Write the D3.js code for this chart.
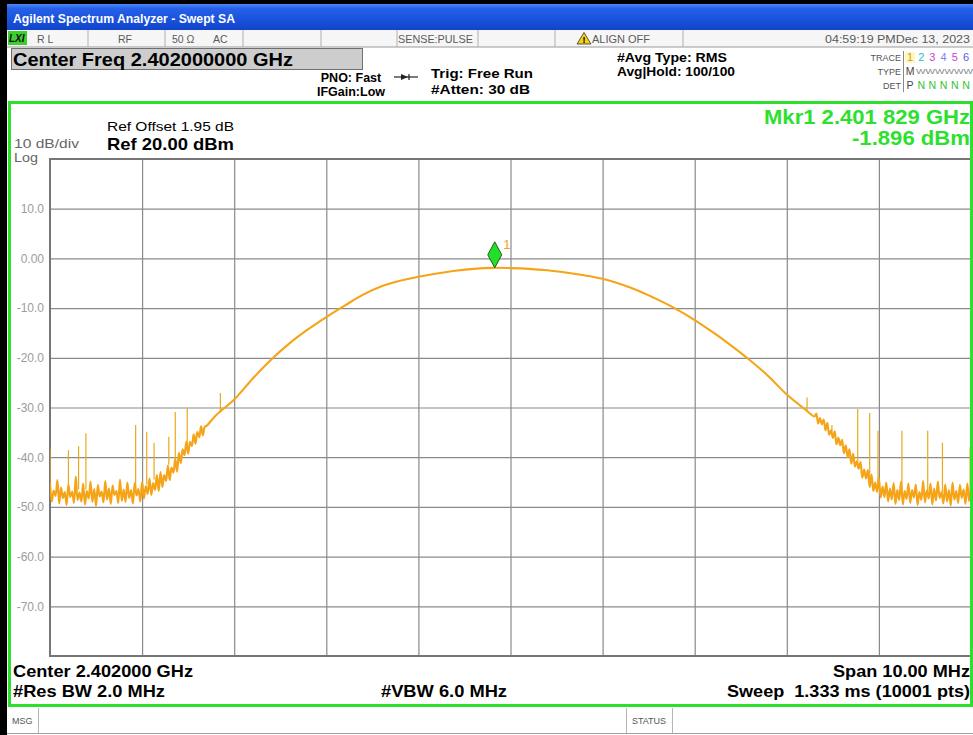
<!DOCTYPE html>
<html>
<head>
<meta charset="utf-8">
<script src="https://cdn.jsdelivr.net/npm/d3@7"></script>
<style>
  body { margin: 0; background: #fff; }
  svg { display: block; font-family: "Liberation Sans", Arial, sans-serif; }
</style>
</head>
<body>
<svg id="screen" width="973" height="735"></svg>
<script>
// ---- Swept SA trace data (frequency offsets in MHz from 2.402 GHz centre, levels in dBm) ----
const centerFreqGHz = 2.402;
const spanMHz = 10;
const refLevel = 20;
const dbPerDiv = 10;

const yTicks = [10, 0, -10, -20, -30, -40, -50, -60, -70];
const yTickLabels = ["10.0", "0.00", "-10.0", "-20.0", "-30.0", "-40.0", "-50.0", "-60.0", "-70.0"];
const freqDivisions = [-4, -3, -2, -1, 0, 1, 2, 3, 4];

// lower skirt / noise floor, sampled every 0.02 MHz starting at -5.00 MHz
const noiseStep = 0.02;
const leftNoiseStart = -5.0;
const leftNoise = [
  -45.2, -48.9, -46.7, -47.8, -44.6, -49.3, -46.1, -48.2, -47.0, -49.6,
  -45.5, -48.0, -46.9, -49.2, -43.9, -48.6, -47.1, -48.9, -45.3, -49.5,
  -46.8, -48.3, -44.9, -49.0, -46.4, -49.8, -45.6, -47.9, -46.9, -49.1,
  -44.8, -48.5, -46.3, -49.4, -45.7, -47.6, -46.8, -49.2, -44.5, -48.8,
  -46.5, -49.0, -45.1, -48.2, -46.6, -49.3, -45.2, -47.7, -46.4, -48.9,
  -45.0, -48.3, -45.8, -47.4, -44.3, -47.6, -45.2, -46.6, -43.6, -46.8,
  -43.0, -46.0, -43.6, -44.8, -41.7, -44.6, -42.1, -43.1, -40.3, -42.9,
  -39.1, -41.2, -38.4, -39.6, -36.9, -39.3, -36.9, -37.8, -35.4, -37.3,
  -34.9, -36.0, -33.8, -35.6, -33.9
];

// main lobe
const mainFreqs = [
  -3.3, -3.2, -3.0, -2.8, -2.6, -2.4, -2.2, -2.0, -1.8, -1.6, -1.4, -1.2,
  -1.0, -0.8, -0.6, -0.4, -0.2, 0.0, 0.2, 0.4, 0.6, 0.8, 1.0, 1.2,
  1.4, 1.6, 1.8, 2.0, 2.2, 2.4, 2.6, 2.8, 3.0, 3.2, 3.3
];
const mainLevels = [
  -33.7, -31.6, -28.4, -24.2, -20.4, -17.1, -14.3, -11.8, -9.5, -7.3, -5.6, -4.5,
  -3.7, -3.05, -2.5, -2.1, -1.9, -1.95, -2.1, -2.4, -2.85, -3.4, -4.1, -5.2,
  -6.6, -8.3, -10.2, -12.4, -14.9, -17.6, -20.5, -23.7, -27.4, -30.4, -31.8
];

// upper skirt / noise floor, sampled every 0.02 MHz starting at +3.32 MHz
const rightNoiseStart = 3.32;
const rightNoise = [
  -31.2, -33.2, -32.1, -33.4, -32.4, -34.6, -33.1, -35.5, -34.6, -36.1,
  -34.8, -37.4, -36.1, -37.6, -36.5, -39.2, -37.6, -40.0, -38.4, -41.3,
  -39.3, -41.9, -40.8, -42.3, -41.0, -44.1, -42.5, -44.3, -42.6, -46.0,
  -43.5, -46.8, -45.1, -47.0, -44.2, -48.1, -45.9, -48.0, -45.1, -48.9,
  -46.3, -48.5, -45.2, -49.4, -46.6, -48.6, -44.9, -49.5, -46.8, -48.4,
  -45.3, -49.2, -46.6, -48.1, -45.5, -49.6, -47.0, -48.6, -44.8, -49.1,
  -46.7, -48.3, -45.3, -49.5, -46.3, -48.7, -44.9, -48.2, -47.0, -49.3,
  -45.5, -48.9, -46.6, -49.7, -45.1, -48.5, -46.8, -49.2, -45.6, -48.2,
  -46.5, -49.4, -45.3, -48.8, -46.1
];

// discrete spurs riding on the floor
const spurFreqs = [-5.0, -4.80, -4.69, -4.61, -4.07, -3.95, -3.87, -3.71, -3.64, -3.51, -3.15,
                    3.22, 3.49, 3.77, 3.90, 3.99, 4.25, 4.53, 4.69, 4.99];
const spurBases = [-47.0, -46.5, -46.5, -46.5, -46.5, -45.5, -44.5, -41.5, -40.5, -38.0, -31.0,
                   -30.6, -35.0, -42.0, -44.5, -46.0, -47.0, -47.0, -47.0, -47.0];
const spurTops  = [-38.3, -38.6, -37.8, -35.2, -33.5, -34.9, -37.1, -35.9, -30.9, -30.1, -27.1,
                   -28.0, -33.5, -30.3, -31.1, -34.7, -34.7, -34.7, -37.1, -38.0];

const markerFreq = -0.171;   // MHz offset -> 2.401 829 GHz
const markerLevel = -1.896;  // dBm

const statusDividers = [88, 165, 243, 321, 397, 478, 555, 683];
const traceNumbers = ["1", "2", "3", "4", "5", "6"];
const traceColors = ["#c9a400", "#26bfbf", "#cc3fcc", "#8a7cf0", "#cc3fcc", "#5a5ae8"];

// ---- drawing ----
const svg = d3.select("#screen");
const W = 973, H = 735;

const x = d3.scaleLinear().domain([-spanMHz / 2, spanMHz / 2]).range([50, 971]);
const y = d3.scaleLinear().domain([refLevel - 10 * dbPerDiv, refLevel]).range([656, 159]);

function text(px, py, s, o = {}) {
  const t = svg.append("text").attr("x", px).attr("y", py).text(s)
    .attr("font-size", o.size || 12)
    .attr("font-weight", o.weight || "normal")
    .attr("fill", o.fill || "#000")
    .attr("text-anchor", o.anchor || "start")
    .style("white-space", "pre");
  if (o.style) t.attr("font-style", o.style);
  if (o.len) t.attr("textLength", o.len).attr("lengthAdjust", "spacingAndGlyphs");
  return t;
}

const defs = svg.append("defs");
const grad = defs.append("linearGradient").attr("id", "titleGrad").attr("x1", 0).attr("y1", 0).attr("x2", 0).attr("y2", 1);
grad.append("stop").attr("offset", "0%").attr("stop-color", "#4a86f6");
grad.append("stop").attr("offset", "18%").attr("stop-color", "#2660e8");
grad.append("stop").attr("offset", "65%").attr("stop-color", "#1850dc");
grad.append("stop").attr("offset", "100%").attr("stop-color", "#1244c8");

// window chrome
svg.append("rect").attr("x", 0).attr("y", 0).attr("width", W).attr("height", H).attr("fill", "#fff");
svg.append("rect").attr("x", 0).attr("y", 0).attr("width", W).attr("height", 4).attr("fill", "#000");
svg.append("rect").attr("x", 0).attr("y", 0).attr("width", 7).attr("height", H).attr("fill", "#000");
svg.append("rect").attr("x", 7).attr("y", 4).attr("width", W - 7).attr("height", 26).attr("fill", "url(#titleGrad)");
text(13, 23, "Agilent Spectrum Analyzer - Swept SA", { size: 12, weight: "bold", fill: "#fff", len: 222 });

// status row
svg.append("rect").attr("x", 7).attr("y", 30).attr("width", W - 7).attr("height", 17).attr("fill", "#f6f6f6");
svg.append("line").attr("x1", 7).attr("x2", W).attr("y1", 47).attr("y2", 47).attr("stroke", "#9a9a9a");
statusDividers.forEach(d => svg.append("line").attr("x1", d).attr("x2", d).attr("y1", 30).attr("y2", 47).attr("stroke", "#b0b0b0"));
svg.append("rect").attr("x", 8).attr("y", 31).attr("width", 19).attr("height", 14).attr("fill", "#3ccf2f");
text(9, 42, "LXI", { size: 10, weight: "bold", style: "italic", fill: "#111" });
const rowFont = { size: 10.5, fill: "#5a5a5a" };
text(37, 43, "R L", rowFont);
text(118, 43, "RF", rowFont);
text(172, 43, "50 Ω", rowFont);
text(213, 43, "AC", rowFont);
text(398, 43, "SENSE:PULSE", { ...rowFont, len: 75 });
svg.append("path").attr("d", "M584,32.5 L591,44 L577,44 Z").attr("fill", "#f6cf16").attr("stroke", "#333").attr("stroke-width", 0.8);
text(584, 43, "!", { size: 9, weight: "bold", anchor: "middle", fill: "#000" });
text(592, 43, "ALIGN OFF", { ...rowFont, len: 58 });
text(970, 43, "04:59:19 PMDec 13, 2023", { ...rowFont, anchor: "end", len: 145 });

// setup header
svg.append("rect").attr("x", 11.5).attr("y", 48.5).attr("width", 351).attr("height", 21).attr("fill", "#cdcdcd").attr("stroke", "#6f6f6f");
text(13, 66, "Center Freq 2.402000000 GHz", { size: 19, weight: "bold", len: 280 });
text(351, 82, "PNO: Fast", { size: 12.5, weight: "bold", anchor: "middle" });
text(351, 96, "IFGain:Low", { size: 12.5, weight: "bold", anchor: "middle" });
svg.append("line").attr("x1", 394).attr("x2", 418).attr("y1", 77).attr("y2", 77).attr("stroke", "#222").attr("stroke-width", 1.2);
svg.append("path").attr("d", "M401,74 L408,77 L401,80 Z").attr("fill", "#222");
svg.append("line").attr("x1", 409).attr("x2", 409).attr("y1", 74).attr("y2", 80).attr("stroke", "#222").attr("stroke-width", 1.2);
text(431, 78, "Trig: Free Run", { size: 13, weight: "bold", len: 102 });
text(431, 94, "#Atten: 30 dB", { size: 13, weight: "bold", len: 99 });
text(617, 62, "#Avg Type: RMS", { size: 13, weight: "bold", len: 110 });
text(617, 76, "Avg|Hold: 100/100", { size: 13, weight: "bold", len: 118 });

// trace status block
const tsFont = { size: 9, fill: "#555", anchor: "end" };
text(901, 61, "TRACE", tsFont);
text(901, 75, "TYPE", tsFont);
text(901, 89, "DET", tsFont);
svg.append("line").attr("x1", 903.5).attr("x2", 903.5).attr("y1", 51).attr("y2", 92).attr("stroke", "#888");
svg.append("rect").attr("x", 905).attr("y", 52).attr("width", 10).attr("height", 11).attr("fill", "#fff6c0");
traceNumbers.forEach((n, i) => text(910 + i * 11.2, 61, n, { size: 11, fill: traceColors[i], anchor: "middle" }));
text(910, 75, "M", { size: 10.5, fill: "#444", anchor: "middle" });
text(916, 74, "WWWWWW", { size: 8, fill: "#888", len: 57 });
text(910, 89, "P", { size: 10.5, fill: "#444", anchor: "middle" });
[1, 2, 3, 4, 5].forEach(i => text(910 + i * 11.2, 89, "N", { size: 10.5, fill: "#2ec52e", anchor: "middle" }));

// measurement header inside the frame
text(970, 124, "Mkr1 2.401 829 GHz", { size: 20, weight: "bold", fill: "#2ee02e", anchor: "end", len: 206 });
text(970, 145, "-1.896 dBm", { size: 20, weight: "bold", fill: "#2ee02e", anchor: "end", len: 118 });
text(107, 131, "Ref Offset 1.95 dB", { size: 13, len: 127 });
text(107, 150, "Ref 20.00 dBm", { size: 17, weight: "bold", len: 127 });
text(14, 148, "10 dB/div", { size: 12, fill: "#666", len: 65 });
text(14, 162, "Log", { size: 12, fill: "#666", len: 24 });

// grid via axes
const plotW = x.range()[1] - x.range()[0];
const plotH = y.range()[0] - y.range()[1];
const yAxis = svg.append("g").attr("transform", `translate(${x.range()[0]},0)`)
  .call(d3.axisLeft(y).tickValues(yTicks).tickFormat((d, i) => yTickLabels[i]).tickSize(-plotW).tickPadding(6));
yAxis.select(".domain").remove();
yAxis.selectAll("line").attr("stroke", "#8a8a8a").attr("stroke-width", 1.2);
yAxis.selectAll("text").attr("fill", "#9c9c9c").attr("font-size", 12).attr("font-family", "Liberation Sans, Arial, sans-serif");

const xAxis = svg.append("g").attr("transform", `translate(0,${y.range()[0]})`)
  .call(d3.axisBottom(x).tickValues(freqDivisions).tickFormat("").tickSize(-plotH));
xAxis.select(".domain").remove();
xAxis.selectAll("line").attr("stroke", "#8a8a8a").attr("stroke-width", 1.2);

svg.append("rect").attr("x", x.range()[0]).attr("y", y.range()[1]).attr("width", plotW).attr("height", plotH)
  .attr("fill", "none").attr("stroke", "#767676").attr("stroke-width", 2);

// trace
const traceData = [
  ...leftNoise.map((v, i) => [leftNoiseStart + i * noiseStep, v]),
  ...mainFreqs.map((f, i) => [f, mainLevels[i]]),
  ...rightNoise.map((v, i) => [rightNoiseStart + i * noiseStep, v])
];
const clip = defs.append("clipPath").attr("id", "plotClip");
clip.append("rect").attr("x", x.range()[0]).attr("y", y.range()[1]).attr("width", plotW).attr("height", plotH);

const plot = svg.append("g").attr("clip-path", "url(#plotClip)");
plot.selectAll("line.spur").data(spurFreqs).join("line").attr("class", "spur")
  .attr("x1", d => x(d)).attr("x2", d => x(d))
  .attr("y1", (d, i) => y(spurBases[i])).attr("y2", (d, i) => y(spurTops[i]))
  .attr("stroke", "#e8aa1a").attr("stroke-width", 1.2);

plot.append("path").datum(traceData)
  .attr("d", d3.line().x(d => x(d[0])).y(d => y(d[1])).curve(d3.curveCatmullRom.alpha(0.5)))
  .attr("fill", "none").attr("stroke", "#f6a417").attr("stroke-width", 2.1).attr("stroke-linejoin", "round");

// marker 1
const mx = x(markerFreq), my = y(markerLevel);
svg.append("path").attr("d", `M${mx},${my} L${mx - 7},${my - 13} L${mx},${my - 26} L${mx + 7},${my - 13} Z`)
  .attr("fill", "#22e02a").attr("stroke", "#1f5f1f").attr("stroke-width", 1);
text(mx + 12, my - 19, "1", { size: 13, fill: "#f0a030", anchor: "middle" });

// footer inside the frame
text(13, 677, "Center 2.402000 GHz", { size: 16.5, weight: "bold", len: 180 });
text(13, 697, "#Res BW 2.0 MHz", { size: 16.5, weight: "bold", len: 152 });
text(381, 697, "#VBW 6.0 MHz", { size: 16.5, weight: "bold", len: 126 });
text(970, 677, "Span 10.00 MHz", { size: 16.5, weight: "bold", anchor: "end", len: 137 });
text(970, 697, "Sweep  1.333 ms (10001 pts)", { size: 16.5, weight: "bold", anchor: "end", len: 243 });

// green active-window frame
svg.append("rect").attr("x", 9.5).attr("y", 102.5).attr("width", 962).attr("height", 603)
  .attr("fill", "none").attr("stroke", "#2ee02e").attr("stroke-width", 3);

// message / status bar
svg.append("line").attr("x1", 7).attr("x2", W).attr("y1", 733.5).attr("y2", 733.5).attr("stroke", "#a0a0a0");
[38.5, 626.5, 672.5].forEach(d => svg.append("line").attr("x1", d).attr("x2", d).attr("y1", 708).attr("y2", 733).attr("stroke", "#b5b5b5"));
text(12, 724, "MSG", { size: 9, fill: "#555" });
text(649, 724, "STATUS", { size: 9, fill: "#555", anchor: "middle" });
</script>
</body>
</html>
